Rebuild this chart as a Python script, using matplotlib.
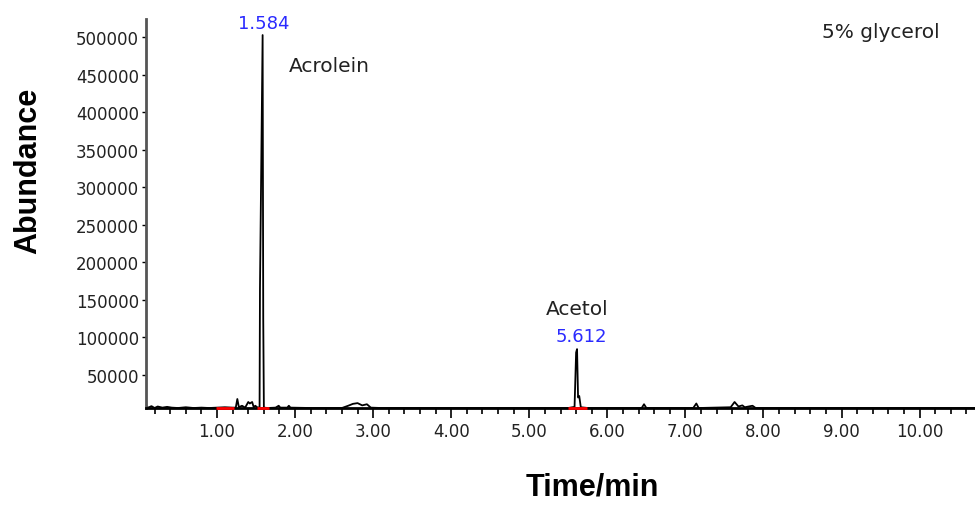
import matplotlib
matplotlib.use('Agg')
import matplotlib.pyplot as plt
import numpy as np

# chromatogram trace (time in min, abundance)
time = [0.09, 0.12, 0.16, 0.2, 0.24, 0.3, 0.36, 0.42, 0.5, 0.6, 0.7, 0.8, 0.9, 1.0,
        1.1, 1.2, 1.24, 1.26, 1.28, 1.32, 1.36, 1.40, 1.42, 1.45, 1.47, 1.49, 1.52,
        1.545, 1.55, 1.584, 1.592, 1.60, 1.65, 1.75, 1.79, 1.81, 1.9, 1.92, 1.94, 2.2,
        2.6, 2.68, 2.74, 2.8, 2.86, 2.92, 2.97, 3.1, 4.0, 5.0, 5.5, 5.58, 5.60, 5.612,
        5.625, 5.64, 5.66, 5.75, 6.2, 6.44, 6.47, 6.5, 7.1, 7.14, 7.17, 7.58, 7.63,
        7.68, 7.73, 7.76, 7.86, 7.9, 8.5, 9.5, 10.71]
abundance = [9000, 6500, 8500, 6000, 8000, 6500, 7500, 6500, 6000, 7000, 6000, 6500,
             6000, 6500, 7000, 6500, 6500, 18000, 7000, 9000, 6500, 14000, 12000, 14000,
             7000, 9000, 6500, 7000, 165000, 503000, 125000, 6500, 6000, 6500, 9000, 6500,
             6500, 9000, 6500, 6000, 6000, 9000, 11500, 12500, 9500, 11000, 6500, 6000,
             6000, 6000, 6000, 7500, 80000, 84500, 20000, 22000, 7000, 6000, 6000, 6000,
             11000, 6000, 6000, 12000, 6000, 7000, 14000, 8000, 9500, 7000, 9000, 6000,
             6000, 6000, 6000]

# integration baselines (red)
integ_start = [0.99, 1.51, 5.49]
integ_end = [1.22, 1.67, 5.74]

peak_rt = [1.584, 5.612]
peak_height = [503000, 84500]
peak_names = ['Acrolein', 'Acetol']

fig = plt.figure(figsize=(9.75, 5.06), dpi=100)
ax = fig.add_axes([146 / 975, 1 - 409 / 506, 829 / 975, 389 / 506])

ax.plot(time, abundance, color='black', lw=1.3)
for s, e in zip(integ_start, integ_end):
    ax.plot([s, e], [6000, 6000], color='red', lw=2, solid_capstyle='butt',
            zorder=4, clip_on=False)

ax.set_xlim(0.09, 10.71)
ax.set_ylim(6000, 524400)

ax.set_xticks(np.arange(1, 11, 1))
ax.set_xticks(np.arange(0.2, 10.7, 0.2), minor=True)
ax.set_xticklabels(['%.2f' % v for v in range(1, 11)])
ax.set_yticks(np.arange(50000, 500001, 50000))
ax.set_yticklabels([str(v) for v in range(50000, 500001, 50000)])

ax.tick_params(axis='x', which='major', length=7, width=1.2, direction='out', pad=3,
               labelsize=12, labelcolor='#222222')
ax.tick_params(axis='x', which='minor', length=4, width=1.2, direction='out')
ax.tick_params(axis='y', length=3, width=1, direction='out', pad=2,
               labelsize=12, labelcolor='#222222')

for side in ['top', 'right']:
    ax.spines[side].set_visible(False)
ax.spines['left'].set_color('#555555')
ax.spines['left'].set_linewidth(2)
ax.spines['bottom'].set_color('black')
ax.spines['bottom'].set_linewidth(2)

# axis titles placed where the reference has them
fig.text(592 / 975, 1 - 488 / 506, 'Time/min', fontsize=22, fontweight='bold',
         family='Liberation Sans', ha='center', va='center')
fig.text(28 / 975, 1 - 171 / 506, 'Abundance', fontsize=22, fontweight='bold',
         family='Liberation Sans', ha='center', va='center', rotation=90)

# retention time labels
ax.annotate('%.3f' % peak_rt[0], (peak_rt[0], peak_height[0]), xytext=(1, 2),
            textcoords='offset points', ha='center', va='bottom', color='#2a2aff',
            fontsize=13, annotation_clip=False)
ax.annotate('%.3f' % peak_rt[1], (peak_rt[1], peak_height[1]), xytext=(3, 3),
            textcoords='offset points', ha='center', va='bottom', color='#2a2aff',
            fontsize=13)
ax.annotate(peak_names[0], (peak_rt[0], peak_height[0]), xytext=(19, -22),
            textcoords='offset points', ha='left', va='center', color='#222222',
            fontsize=14.5)
ax.annotate(peak_names[1], (peak_rt[1], peak_height[1]), xytext=(0, 29),
            textcoords='offset points', ha='center', va='center', color='#222222',
            fontsize=14.5)

fig.text(881 / 975, 1 - 32 / 506, '5% glycerol', ha='center', va='center',
         fontsize=14.5, color='#222222')

fig.savefig('out.png', dpi=100)
